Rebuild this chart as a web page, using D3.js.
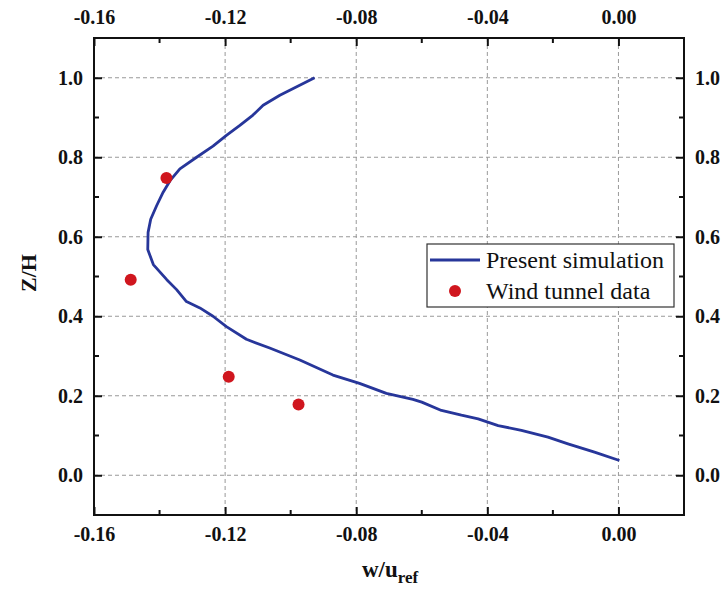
<!DOCTYPE html>
<html lang="en">
<head>
  <meta charset="UTF-8">
  <title>w/uref profile</title>
  <style>
    body { margin: 0; background: #fff; }
    text { font-family: "Liberation Serif", "Times New Roman", serif; }
  </style>
</head>
<body>
  <svg id="svg" width="724" height="594"></svg>
  <script src="https://cdn.jsdelivr.net/npm/d3@7"></script>
  <script>
    // present simulation (w/uref, Z/H)
    const simW = [0.0003, -0.0073, -0.0154, -0.0215, -0.0296, -0.0367, -0.0428, -0.0479, -0.0540, -0.0600,
      -0.0627, -0.0708, -0.0790, -0.0871, -0.0972, -0.1064, -0.1135, -0.1196, -0.1237, -0.1277, -0.1318,
      -0.1348, -0.1378, -0.1419, -0.1436, -0.1435, -0.1427, -0.1409, -0.1389, -0.1368, -0.1338, -0.1287,
      -0.1237, -0.1196, -0.1155, -0.1115, -0.1084, -0.1033, -0.0927]
    const simZ = [0.037, 0.058, 0.079, 0.096, 0.113, 0.125, 0.142, 0.151, 0.163, 0.184,
      0.191, 0.206, 0.231, 0.252, 0.290, 0.320, 0.342, 0.374, 0.400, 0.421, 0.437,
      0.467, 0.492, 0.530, 0.568, 0.611, 0.644, 0.678, 0.712, 0.741, 0.771, 0.800,
      0.828, 0.855, 0.880, 0.906, 0.931, 0.956, 1.000]

    // wind tunnel data
    const expW = [-0.1379, -0.1488, -0.1189, -0.0976]
    const expZ = [0.748, 0.492, 0.248, 0.178]

    const xTicks = [-0.16, -0.12, -0.08, -0.04, 0.00]
    const yTicks = [0.0, 0.2, 0.4, 0.6, 0.8, 1.0]

    const margin = { top: 38, right: 40, bottom: 79, left: 94 }
    const width = 724 - margin.left - margin.right
    const height = 594 - margin.top - margin.bottom

    const x = d3.scaleLinear().domain([-0.16, 0.02]).range([margin.left, margin.left + width])
    const y = d3.scaleLinear().domain([-0.1, 1.1]).range([margin.top + height, margin.top])

    const svg = d3.select('#svg')

    // grid
    const grid = svg.append('g').attr('stroke', '#999').attr('stroke-width', 1).attr('stroke-dasharray', '4,3')
    grid.selectAll('.gx').data(xTicks.slice(1)).enter().append('line')
      .attr('x1', d => x(d)).attr('x2', d => x(d))
      .attr('y1', margin.top).attr('y2', margin.top + height)
    grid.selectAll('.gy').data(yTicks).enter().append('line')
      .attr('x1', margin.left).attr('x2', margin.left + width)
      .attr('y1', d => y(d)).attr('y2', d => y(d))

    // axes, ticks inward
    const minorX = d3.range(-0.14, 0.02, 0.04)
    const minorY = d3.range(0.1, 1.1, 0.2)
    const fmtX = d => d.toFixed(2).replace('-0.00', '0.00')
    const fmtY = d => d.toFixed(1)

    function styleAxis(g) {
      g.attr('font-size', null).attr('font-family', null)
      g.select('.domain').remove()
      g.selectAll('text').attr('font-weight', 'bold').attr('fill', '#111')
        .style('font-size', '20px')
        .style('font-family', '"Liberation Serif", serif')
      g.selectAll('line').attr('stroke', '#111').attr('stroke-width', 2)
    }

    svg.append('g').attr('transform', `translate(0,${margin.top + height})`)
      .call(d3.axisBottom(x).tickValues(xTicks).tickFormat(fmtX).tickSizeInner(-8).tickPadding(12))
      .call(styleAxis)
    svg.append('g').attr('transform', `translate(0,${margin.top})`)
      .call(d3.axisTop(x).tickValues(xTicks).tickFormat(fmtX).tickSizeInner(-8).tickPadding(14))
      .call(styleAxis)
    svg.append('g').attr('transform', `translate(${margin.left},0)`)
      .call(d3.axisLeft(y).tickValues(yTicks).tickFormat(fmtY).tickSizeInner(-8).tickPadding(11))
      .call(styleAxis)
    svg.append('g').attr('transform', `translate(${margin.left + width},0)`)
      .call(d3.axisRight(y).tickValues(yTicks).tickFormat(fmtY).tickSizeInner(-8).tickPadding(11))
      .call(styleAxis)

    // minor ticks
    const minor = svg.append('g').attr('stroke', '#111').attr('stroke-width', 2)
    minorX.forEach(v => {
      minor.append('line').attr('x1', x(v)).attr('x2', x(v)).attr('y1', margin.top + height).attr('y2', margin.top + height - 5)
      minor.append('line').attr('x1', x(v)).attr('x2', x(v)).attr('y1', margin.top).attr('y2', margin.top + 5)
    })
    minorY.forEach(v => {
      minor.append('line').attr('y1', y(v)).attr('y2', y(v)).attr('x1', margin.left).attr('x2', margin.left + 5)
      minor.append('line').attr('y1', y(v)).attr('y2', y(v)).attr('x1', margin.left + width).attr('x2', margin.left + width - 5)
    })

    // frame
    svg.append('rect').attr('x', margin.left).attr('y', margin.top)
      .attr('width', width).attr('height', height)
      .attr('fill', 'none').attr('stroke', '#111').attr('stroke-width', 2)

    // simulation line
    const line = d3.line().x(d => x(d[0])).y(d => y(d[1]))
    svg.append('path')
      .datum(d3.zip(simW, simZ))
      .attr('d', line)
      .attr('fill', 'none').attr('stroke', '#27369a').attr('stroke-width', 2.8)
      .attr('stroke-linejoin', 'round')

    // wind tunnel points
    svg.selectAll('.pt').data(d3.zip(expW, expZ)).enter().append('circle')
      .attr('cx', d => x(d[0])).attr('cy', d => y(d[1])).attr('r', 6)
      .attr('fill', '#d0161e')

    // legend
    const lg = svg.append('g')
    lg.append('rect').attr('x', 427).attr('y', 244).attr('width', 247).attr('height', 63)
      .attr('fill', '#fff').attr('stroke', '#333').attr('stroke-width', 1.2)
    lg.append('line').attr('x1', 430).attr('x2', 480).attr('y1', 260).attr('y2', 260)
      .attr('stroke', '#27369a').attr('stroke-width', 2.8)
    lg.append('circle').attr('cx', 455).attr('cy', 291).attr('r', 6).attr('fill', '#d0161e')
    lg.append('text').attr('x', 486).attr('y', 268).attr('font-size', 24).attr('fill', '#111').text('Present simulation')
    lg.append('text').attr('x', 486).attr('y', 299).attr('font-size', 24).attr('fill', '#111').text('Wind tunnel data')

    // axis titles
    svg.append('text').attr('transform', 'translate(36,273) rotate(-90)')
      .attr('text-anchor', 'middle').attr('font-size', 22).attr('font-weight', 'bold').attr('fill', '#111')
      .text('Z/H')
    const xt = svg.append('text').attr('x', 390).attr('y', 577)
      .attr('text-anchor', 'middle').attr('font-size', 23).attr('font-weight', 'bold').attr('fill', '#111')
    xt.append('tspan').text('w/u')
    xt.append('tspan').attr('font-size', 17).attr('dy', 6).text('ref')
  </script>
</body>
</html>
